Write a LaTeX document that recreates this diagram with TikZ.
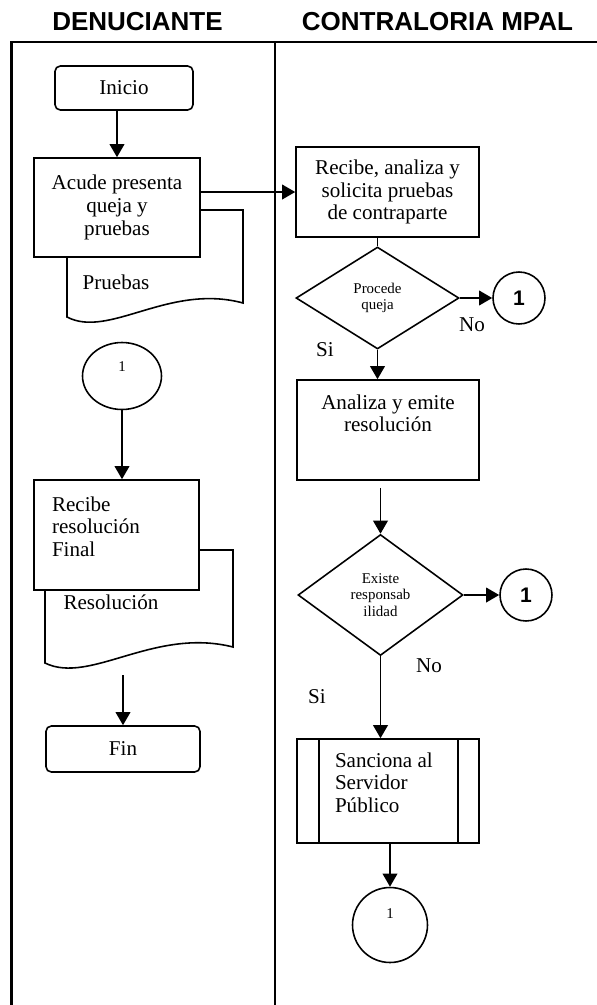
\documentclass[tikz,border=0pt]{standalone}
\usepackage{fontspec}
\setmainfont{Liberation Serif}
\setsansfont{Liberation Sans}
\usepackage{tikz}
\usetikzlibrary{arrows.meta}
\usetikzlibrary{shapes.geometric}

\newcommand{\boxtext}[4]{\parbox[c][#1][t]{#2}{\vspace*{#3}#4}}

\begin{document}
\begin{tikzpicture}[x=0.02cm,y=-0.02cm]
\tikzset{>={Triangle[width=2.9mm,length=2.6mm]}}
\tikzstyle{lane} =[line width=1.7pt]
\tikzstyle{term} =[draw, rounded corners=3pt, fill=white, line width=0.9pt, font=\fontsize{12}{12.9}\selectfont]
\tikzstyle{proc} =[draw, fill=white, line width=0.9pt, inner sep=0pt, font=\fontsize{12}{12.9}\selectfont]
\tikzstyle{decision} =[diamond, draw, fill=white, line width=0.9pt, inner sep=0pt, align=center, font=\fontsize{8.5}{9.5}\selectfont]
\tikzstyle{conn} =[circle, draw, line width=0.9pt, inner sep=0pt, minimum size=1.04cm, font=\sffamily\bfseries\fontsize{12}{12}\selectfont]
\tikzstyle{link} =[ellipse, draw, line width=0.9pt, inner sep=0pt]
\tikzstyle{doc} =[draw, fill=white, line width=0.9pt]
\tikzstyle{flow} =[->, line width=1.1pt]
\tikzstyle{lbl} =[font=\fontsize{12}{12.9}\selectfont]
\tikzstyle{head} =[font=\sffamily\bfseries\fontsize{14.8}{17}\selectfont]

\useasboundingbox (0,0) rectangle (597,1005);

% lanes
\node[head] (hden) at (137.5,22) {DENUCIANTE};
\node[head] (hcon) at (437.5,22) {CONTRALORIA MPAL};
\draw[lane] (11.5,1005) -- (11.5,42) -- (597,42);
\draw[lane] (275,42) -- (275,1005);

% denunciante
\draw[doc] (67,210) -- (243,210) -- (243,303) .. controls (169,283) and (109,339) .. (67,317) -- cycle;
\node[lbl] (pruebas) at (116,282) {Pruebas};
\node[term, minimum width=2.76cm, minimum height=0.88cm] (inicio) at (124,88) {Inicio};
\node[proc, align=center, minimum width=3.32cm, minimum height=1.98cm] (acude) at (117,207.5) {Acude presenta\\queja y\\pruebas};
\node[link, minimum width=1.58cm, minimum height=1.34cm, label={[font=\fontsize{8.5}{9}\selectfont, yshift=0.18cm]center:1}] (uno) at (122,376) {};

\draw[doc] (45,550) -- (233,550) -- (233,647) .. controls (154,627) and (90,685) .. (45,663) -- cycle;
\node[lbl] (resol) at (111,602) {Resolución};
\node[proc, minimum width=3.3cm, minimum height=2.2cm] (recfin) at (116.5,535) {\boxtext{2.2cm}{3.3cm}{0.33cm}{\leftskip=0.36cm Recibe\\resolución\\Final}};
\coordinate (resolbot) at (123,675);
\node[term, minimum width=3.08cm, minimum height=0.92cm] (fin) at (123,749) {Fin};

\draw[flow] (acude.north |- inicio.south) -- (acude.north);
\draw[flow] (uno.south) -- (uno.south |- recfin.north);
\draw[flow] (resolbot) -- (fin.north);

% contraloria
\node[proc, align=center, minimum width=3.66cm, minimum height=1.8cm] (recibe) at (387.5,192) {Recibe, analiza y\\solicita pruebas\\de contraparte};
\node[decision, minimum width=3.26cm, minimum height=2.04cm] (procede) at (377.5,298) {Procede\\queja};
\node[conn] (uno1) at (519,298) {1};
\node[lbl] (no1) at (472,325) {No};
\node[lbl] (si1) at (325,350) {Si};
\node[proc, minimum width=3.64cm, minimum height=2cm] (analiza) at (388,430) {\boxtext{2cm}{3.64cm}{0.29cm}{\centering Analiza y emite\\resolución}};
\node[decision, minimum width=3.3cm, minimum height=2.42cm] (existe) at (380.5,595) {Existe\\responsab\\ilidad};
\node[conn] (uno2) at (526,595) {1};
\node[lbl] (no2) at (429,666) {No};
\node[lbl] (si2) at (317,697) {Si};
\node[proc, minimum width=3.64cm, minimum height=2.08cm] (sanciona) at (388,791) {\boxtext{2.08cm}{3.64cm}{0.27cm}{\leftskip=0.76cm Sanciona al\\Servidor\\Público}};
\draw[line width=0.9pt] ([xshift=0.46cm]sanciona.north west) -- ([xshift=0.46cm]sanciona.south west);
\draw[line width=0.9pt] ([xshift=-0.44cm]sanciona.north east) -- ([xshift=-0.44cm]sanciona.south east);
\node[link, minimum size=1.5cm, label={[font=\fontsize{8.5}{9}\selectfont, yshift=0.22cm]center:1}] (uno3) at (390,925) {};

\draw[flow] (acude.east |- recibe.west) -- (recibe.west);
\draw[line width=1.1pt] (procede.north |- recibe.south) -- (procede.north);
\draw[flow] (procede.east) -- (uno1.west);
\draw[flow] (procede.south) -- (procede.south |- analiza.north);
\draw[flow, shorten <=4pt] (existe.north |- analiza.south) -- (existe.north);
\draw[flow] (existe.east) -- (uno2.west);
\draw[flow] (existe.south) -- (existe.south |- sanciona.north);
\draw[flow] (uno3.north |- sanciona.south) -- (uno3.north);
\end{tikzpicture}
\end{document}
